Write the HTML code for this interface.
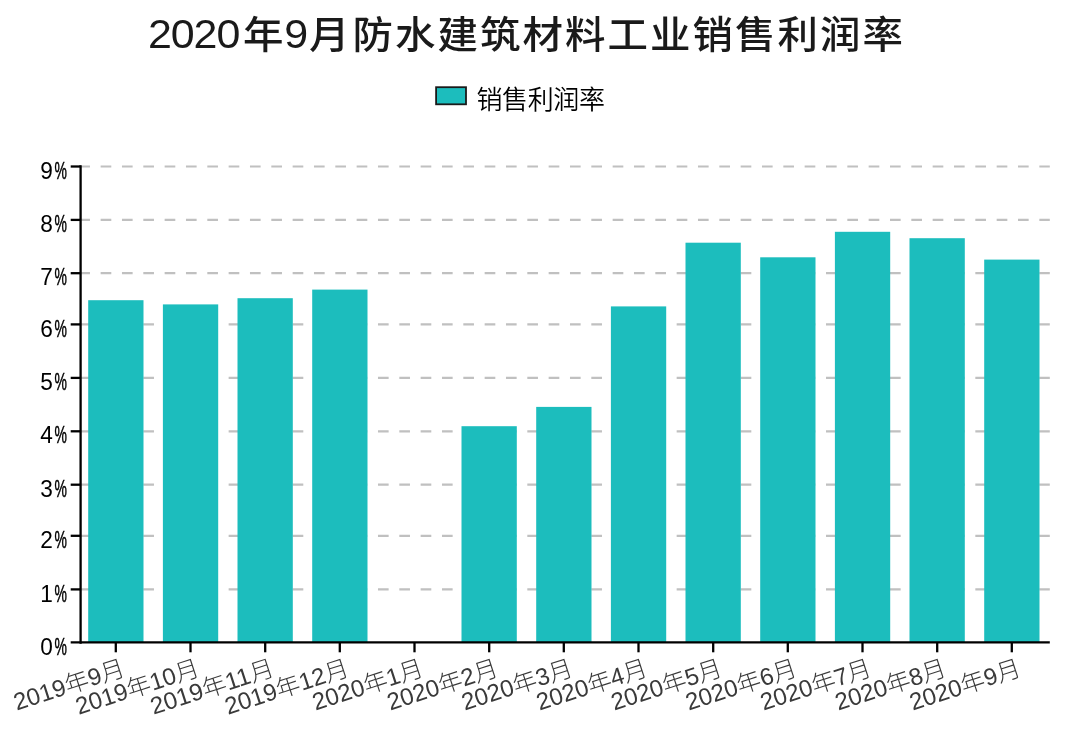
<!DOCTYPE html>
<html lang="zh-CN">
<head>
<meta charset="utf-8">
<title>2020年9月防水建筑材料工业销售利润率</title>
<style>
html,body{margin:0;padding:0;background:#fff;}
body{width:1080px;height:732px;overflow:hidden;}
svg{display:block;}
.lat{font-family:"Liberation Sans",sans-serif;}
.cjk{font-family:"Liberation Sans","Noto Sans CJK SC",sans-serif;}
</style>
</head>
<body>
<svg width="1080" height="732" viewBox="0 0 1080 732">
<rect x="0" y="0" width="1080" height="732" fill="#ffffff"/>
<g style="filter:blur(0.5px)">
<text class="cjk" font-size="40.5" font-weight="500" fill="#1a1a1a" transform="translate(0 48.2) scale(1 0.94)" y="0" x="148.0 170.8 193.6 216.4 243.0 284.2 309.0 352.5 395.0 437.5 480.0 522.5 565.0 607.5 650.0 692.5 735.0 777.5 820.0 862.5"><tspan font-size="43">2020</tspan>年<tspan font-size="43">9</tspan>月防水建筑材料工业销售利润率</text>
<rect x="436.1" y="87.2" width="29.9" height="17.1" fill="#1cbdbd" stroke="#1a1a1a" stroke-width="1.8"/>
<text class="cjk" x="476.5" y="108.5" font-size="26" font-weight="350" fill="#000" textLength="128.5" lengthAdjust="spacing">销售利润率</text>
<g stroke="#c0c0c0" stroke-width="2.2" stroke-dasharray="10.667 10.667" fill="none">
<line x1="79.3" y1="589.4" x2="1049.8" y2="589.4"/>
<line x1="79.3" y1="535.8" x2="1049.8" y2="535.8"/>
<line x1="79.3" y1="484.7" x2="1049.8" y2="484.7"/>
<line x1="79.3" y1="431.3" x2="1049.8" y2="431.3"/>
<line x1="79.3" y1="377.9" x2="1049.8" y2="377.9"/>
<line x1="79.3" y1="324.4" x2="1049.8" y2="324.4"/>
<line x1="79.3" y1="273.2" x2="1049.8" y2="273.2"/>
<line x1="79.3" y1="219.9" x2="1049.8" y2="219.9"/>
<line x1="79.3" y1="166.5" x2="1049.8" y2="166.5"/>
</g>
<g fill="#1cbdbd">
<rect x="88.2" y="300.2" width="55.3" height="342.2"/>
<rect x="162.9" y="304.4" width="55.3" height="338.0"/>
<rect x="237.5" y="298.2" width="55.3" height="344.2"/>
<rect x="312.2" y="289.6" width="55.3" height="352.8"/>
<rect x="461.5" y="426.2" width="55.3" height="216.2"/>
<rect x="536.2" y="406.9" width="55.3" height="235.5"/>
<rect x="610.9" y="306.4" width="55.3" height="336.0"/>
<rect x="685.5" y="242.7" width="55.3" height="399.7"/>
<rect x="760.2" y="257.3" width="55.3" height="385.1"/>
<rect x="834.9" y="231.8" width="55.3" height="410.6"/>
<rect x="909.5" y="238.2" width="55.3" height="404.2"/>
<rect x="984.2" y="259.6" width="55.3" height="382.8"/>
</g>
<g stroke="#000" stroke-width="2.3" fill="none">
<line x1="80.6" y1="165.2" x2="80.6" y2="643.6999999999999"/>
<line x1="70.7" y1="642.4" x2="1049.8" y2="642.4"/>
<line x1="70.7" y1="589.4" x2="80.6" y2="589.4"/>
<line x1="70.7" y1="535.8" x2="80.6" y2="535.8"/>
<line x1="70.7" y1="484.7" x2="80.6" y2="484.7"/>
<line x1="70.7" y1="431.3" x2="80.6" y2="431.3"/>
<line x1="70.7" y1="377.9" x2="80.6" y2="377.9"/>
<line x1="70.7" y1="324.4" x2="80.6" y2="324.4"/>
<line x1="70.7" y1="273.2" x2="80.6" y2="273.2"/>
<line x1="70.7" y1="219.9" x2="80.6" y2="219.9"/>
<line x1="70.7" y1="166.5" x2="80.6" y2="166.5"/>
<line x1="115.8" y1="642.4" x2="115.8" y2="652.3"/>
<line x1="190.5" y1="642.4" x2="190.5" y2="652.3"/>
<line x1="265.2" y1="642.4" x2="265.2" y2="652.3"/>
<line x1="339.8" y1="642.4" x2="339.8" y2="652.3"/>
<line x1="414.5" y1="642.4" x2="414.5" y2="652.3"/>
<line x1="489.2" y1="642.4" x2="489.2" y2="652.3"/>
<line x1="563.8" y1="642.4" x2="563.8" y2="652.3"/>
<line x1="638.5" y1="642.4" x2="638.5" y2="652.3"/>
<line x1="713.2" y1="642.4" x2="713.2" y2="652.3"/>
<line x1="787.8" y1="642.4" x2="787.8" y2="652.3"/>
<line x1="862.5" y1="642.4" x2="862.5" y2="652.3"/>
<line x1="937.2" y1="642.4" x2="937.2" y2="652.3"/>
<line x1="1011.8" y1="642.4" x2="1011.8" y2="652.3"/>
</g>
<g class="lat" font-size="24" fill="#000">
<text y="654.5"><tspan x="40.2" textLength="12.6" lengthAdjust="spacingAndGlyphs">0</tspan><tspan x="54.6" textLength="12.4" lengthAdjust="spacingAndGlyphs" stroke="#000" stroke-width="0.5">%</tspan></text>
<text y="601.5"><tspan x="40.2" textLength="12.6" lengthAdjust="spacingAndGlyphs">1</tspan><tspan x="54.6" textLength="12.4" lengthAdjust="spacingAndGlyphs" stroke="#000" stroke-width="0.5">%</tspan></text>
<text y="547.9"><tspan x="40.2" textLength="12.6" lengthAdjust="spacingAndGlyphs">2</tspan><tspan x="54.6" textLength="12.4" lengthAdjust="spacingAndGlyphs" stroke="#000" stroke-width="0.5">%</tspan></text>
<text y="496.8"><tspan x="40.2" textLength="12.6" lengthAdjust="spacingAndGlyphs">3</tspan><tspan x="54.6" textLength="12.4" lengthAdjust="spacingAndGlyphs" stroke="#000" stroke-width="0.5">%</tspan></text>
<text y="443.4"><tspan x="40.2" textLength="12.6" lengthAdjust="spacingAndGlyphs">4</tspan><tspan x="54.6" textLength="12.4" lengthAdjust="spacingAndGlyphs" stroke="#000" stroke-width="0.5">%</tspan></text>
<text y="390.0"><tspan x="40.2" textLength="12.6" lengthAdjust="spacingAndGlyphs">5</tspan><tspan x="54.6" textLength="12.4" lengthAdjust="spacingAndGlyphs" stroke="#000" stroke-width="0.5">%</tspan></text>
<text y="336.5"><tspan x="40.2" textLength="12.6" lengthAdjust="spacingAndGlyphs">6</tspan><tspan x="54.6" textLength="12.4" lengthAdjust="spacingAndGlyphs" stroke="#000" stroke-width="0.5">%</tspan></text>
<text y="285.3"><tspan x="40.2" textLength="12.6" lengthAdjust="spacingAndGlyphs">7</tspan><tspan x="54.6" textLength="12.4" lengthAdjust="spacingAndGlyphs" stroke="#000" stroke-width="0.5">%</tspan></text>
<text y="232.0"><tspan x="40.2" textLength="12.6" lengthAdjust="spacingAndGlyphs">8</tspan><tspan x="54.6" textLength="12.4" lengthAdjust="spacingAndGlyphs" stroke="#000" stroke-width="0.5">%</tspan></text>
<text y="178.6"><tspan x="40.2" textLength="12.6" lengthAdjust="spacingAndGlyphs">9</tspan><tspan x="54.6" textLength="12.4" lengthAdjust="spacingAndGlyphs" stroke="#000" stroke-width="0.5">%</tspan></text>
</g>
<g class="cjk" font-size="24" font-weight="300" fill="#3a3a3a" text-anchor="end">
<text transform="translate(126.3 675) rotate(-18)" x="0" y="0" textLength="115.2" lengthAdjust="spacingAndGlyphs">2019年9月</text>
<text transform="translate(201.0 675) rotate(-18)" x="0" y="0" textLength="128.5" lengthAdjust="spacingAndGlyphs">2019年10月</text>
<text transform="translate(275.7 675) rotate(-18)" x="0" y="0" textLength="128.5" lengthAdjust="spacingAndGlyphs">2019年11月</text>
<text transform="translate(350.3 675) rotate(-18)" x="0" y="0" textLength="128.5" lengthAdjust="spacingAndGlyphs">2019年12月</text>
<text transform="translate(425.0 675) rotate(-18)" x="0" y="0" textLength="115.2" lengthAdjust="spacingAndGlyphs">2020年1月</text>
<text transform="translate(499.7 675) rotate(-18)" x="0" y="0" textLength="115.2" lengthAdjust="spacingAndGlyphs">2020年2月</text>
<text transform="translate(574.3 675) rotate(-18)" x="0" y="0" textLength="115.2" lengthAdjust="spacingAndGlyphs">2020年3月</text>
<text transform="translate(649.0 675) rotate(-18)" x="0" y="0" textLength="115.2" lengthAdjust="spacingAndGlyphs">2020年4月</text>
<text transform="translate(723.7 675) rotate(-18)" x="0" y="0" textLength="115.2" lengthAdjust="spacingAndGlyphs">2020年5月</text>
<text transform="translate(798.3 675) rotate(-18)" x="0" y="0" textLength="115.2" lengthAdjust="spacingAndGlyphs">2020年6月</text>
<text transform="translate(873.0 675) rotate(-18)" x="0" y="0" textLength="115.2" lengthAdjust="spacingAndGlyphs">2020年7月</text>
<text transform="translate(947.7 675) rotate(-18)" x="0" y="0" textLength="115.2" lengthAdjust="spacingAndGlyphs">2020年8月</text>
<text transform="translate(1022.3 675) rotate(-18)" x="0" y="0" textLength="115.2" lengthAdjust="spacingAndGlyphs">2020年9月</text>
</g>
</g>
</svg>
</body>
</html>
